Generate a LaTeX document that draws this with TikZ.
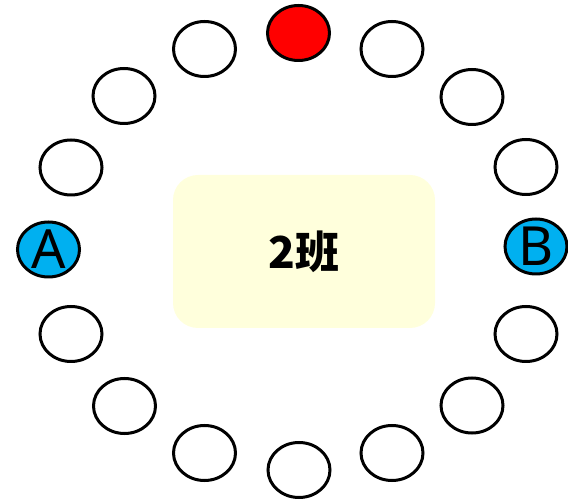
\documentclass[tikz,border=0pt]{standalone}
\usepackage{fontspec}
\setmainfont{Noto Sans}
\newfontfamily\cjk{Noto Sans CJK SC}
\usepackage{xcolor}
\usepackage{tikz}
\usetikzlibrary{shapes.geometric, positioning}

\definecolor{seatblue}{HTML}{00B0F0}
\definecolor{deskyellow}{HTML}{FFFFDC}

\begin{document}
\begin{tikzpicture}[
                x=1pt, y=-1pt,
                seat/.style={ellipse, draw, line width=3pt, minimum width=62pt, minimum height=55pt, inner sep=0pt},
                empty/.style={fill=white},
                taken/.style={fill=red},
                player/.style={fill=seatblue, font=\fontsize{54}{54}\selectfont},
                desk/.style={rectangle, rounded corners=25pt, fill=deskyellow, minimum width=262pt, minimum height=153pt}
            ]
                \useasboundingbox (0,0) rectangle (568,502);

                % Class table
                \node[desk] (class) at (304,251.5) {\cjk\bfseries\fontsize{44}{44}\selectfont 2班};

                % Seats round the table
                \node[seat, taken] (top) at (298.5,33) {};
                \foreach \name/\x/\y in {s1/392/49, s2/472/97, s3/526/167, s4/526/334, s5/472/405.5, s6/392/453,
                                         s7/299/470, s8/204.5/453, s9/124.5/406, s10/71/334, s11/71/167.5,
                                         s12/124/96, s13/204.5/49}
                    \node[seat, empty] (\name) at (\x,\y) {};

                % Players
                \node[seat, player] (A) at (48.5,249.5) {A};
                \node[seat, player] (B) at (536,246.5) {B};
            \end{tikzpicture}
\end{document}
